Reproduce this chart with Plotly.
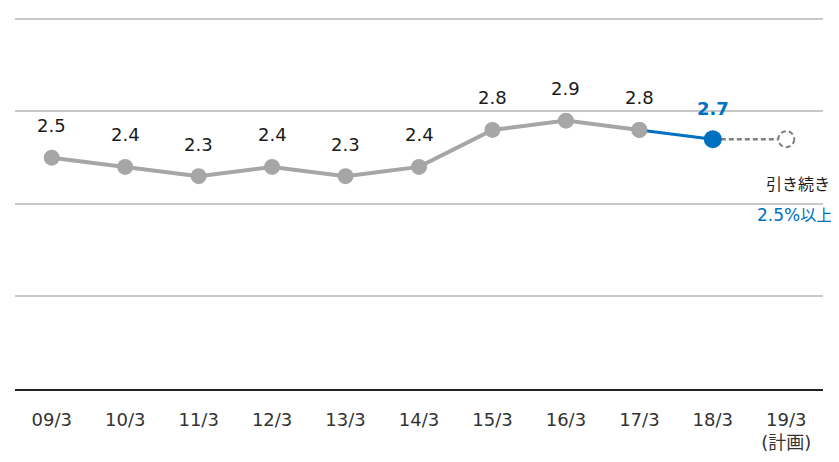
import plotly.graph_objects as go

categories = ["09/3", "10/3", "11/3", "12/3", "13/3", "14/3", "15/3", "16/3", "17/3", "18/3", "19/3"]
tick_labels = ["09/3", "10/3", "11/3", "12/3", "13/3", "14/3", "15/3", "16/3", "17/3", "18/3", "19/3<br>(計画)"]
actual_values = [2.5, 2.4, 2.3, 2.4, 2.3, 2.4, 2.8, 2.9, 2.8]
latest_value = 2.7
plan_value = 2.7
plan_note = "引き続き"
plan_target_num = "2.5%"
plan_target_txt = "以上"

GRAY = "#a6a6a6"
BLUE = "#0070c0"
FONT = "DejaVu Sans, Noto Sans CJK JP"

fig = go.Figure()

# dashed line to plan
fig.add_trace(go.Scatter(
    x=[categories[9], categories[10]], y=[latest_value, plan_value],
    mode="lines", line=dict(color="#808080", width=2.5, dash="5px,3px"),
    hoverinfo="skip", showlegend=False))

# gray actual line
fig.add_trace(go.Scatter(
    x=categories[:9], y=actual_values, mode="lines+markers",
    line=dict(color=GRAY, width=4),
    marker=dict(color=GRAY, size=16), showlegend=False))

# blue segment
fig.add_trace(go.Scatter(
    x=[categories[8], categories[9]], y=[actual_values[-1], latest_value],
    mode="lines", line=dict(color=BLUE, width=3), showlegend=False))
fig.add_trace(go.Scatter(
    x=[categories[8]], y=[actual_values[-1]], mode="markers",
    marker=dict(color=GRAY, size=16), showlegend=False))
fig.add_trace(go.Scatter(
    x=[categories[9]], y=[latest_value], mode="markers",
    marker=dict(color=BLUE, size=18), showlegend=False))

# hollow dashed circle for plan
fig.add_shape(type="circle", xref="x", yref="y",
              xsizemode="pixel", ysizemode="pixel",
              xanchor=10, yanchor=plan_value,
              x0=-8, x1=8, y0=-8, y1=8,
              line=dict(color="#808080", width=2, dash="5px,3px"),
              fillcolor="white")

annotations = []
for c, v in zip(categories[:9], actual_values):
    annotations.append(dict(x=c, y=v, text=f"{v:.1f}", showarrow=False,
                            yshift=32, font=dict(family=FONT, size=18, color="#1a1a1a")))
annotations.append(dict(x=categories[9], y=latest_value, text=f"<b>{latest_value:.1f}</b>",
                        showarrow=False, yshift=31,
                        font=dict(family=FONT, size=18, color=BLUE)))
annotations.append(dict(x=categories[10], y=plan_value, text=plan_note, showarrow=False,
                        yshift=-45, xshift=12, font=dict(family=FONT, size=16, color="#1a1a1a")))
annotations.append(dict(x=categories[10], y=plan_value,
                        text=f"<span style='font-size:17px'>{plan_target_num}</span>{plan_target_txt}",
                        showarrow=False, xanchor="left",
                        yshift=-76, xshift=-31, font=dict(family=FONT, size=16, color=BLUE)))

fig.update_layout(
    width=831, height=454,
    margin=dict(l=7, r=16, t=9, b=73),
    paper_bgcolor="white", plot_bgcolor="white",
    font=dict(family=FONT, size=18, color="#333"),
    annotations=annotations,
    showlegend=False,
)
fig.update_xaxes(type="category", categoryorder="array", categoryarray=categories,
                 tickvals=categories, ticktext=tick_labels, range=[-0.5, 10.5],
                 showgrid=False, showline=True, linecolor="#222", linewidth=2,
                 ticks="", ticklabelstandoff=13, tickfont=dict(family=FONT, size=18, color="#333"),
                 fixedrange=True)
fig.update_yaxes(range=[0, 4.02], tickvals=[1, 2, 3, 4], showgrid=True, gridcolor="#c8c8c8", gridwidth=1.5,
                 showticklabels=False, zeroline=False, showline=False, fixedrange=True)

fig.write_html("out.html")
